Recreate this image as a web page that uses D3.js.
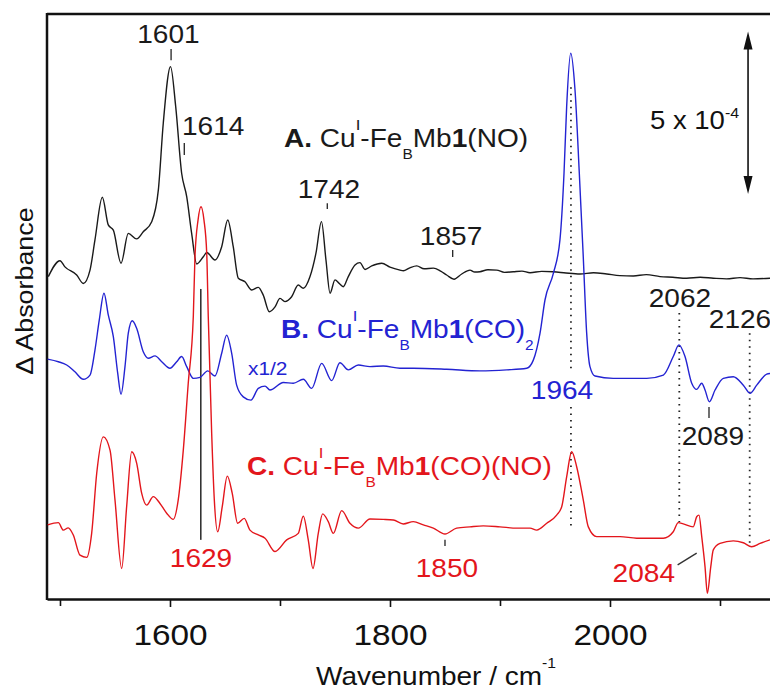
<!DOCTYPE html>
<html>
<head>
<meta charset="utf-8">
<script src="https://cdn.jsdelivr.net/npm/d3@7"></script>
<style>
  html, body { margin: 0; padding: 0; background: #fff; }
  svg { display: block; font-family: 'Liberation Sans', Arial, Helvetica, sans-serif; }
</style>
</head>
<body>
<svg id="chart" width="770" height="691"></svg>
<script>
//

// spectra: [wavenumber (cm-1), dA in units of 1e-5 (stack offset included)]
const traceA = [
  [1489.4, 99.2], [1500, 104.1], [1504.5, 102.2], [1515.2, 99.7], [1521.2, 97.1], [1527.3, 101.2],
  [1531.8, 110.5], [1538.5, 123.6], [1543.9, 115.1], [1548.5, 113.5], [1555.5, 103.3], [1562.1, 112.5],
  [1569.7, 110.8], [1575.7, 113.0], [1583.4, 116.1], [1589.4, 125.8], [1593.9, 146.4], [1600.5, 163.8],
  [1605.2, 151.5], [1610.6, 131.0], [1615.2, 123.8], [1619.7, 112.5], [1624.3, 103.1], [1630.3, 105.3],
  [1633.4, 106.6], [1640.9, 104.3], [1647.0, 108.4], [1652.5, 116.6], [1657.5, 108.4], [1662.1, 98.7],
  [1668.2, 97.6], [1674.3, 95.1], [1680.3, 95.9], [1684.8, 93.5], [1690.3, 88.4], [1695.5, 89.9],
  [1700, 92.5], [1704.5, 91.5], [1710.6, 93.0], [1716.6, 96.6], [1721.2, 95.6], [1727.3, 99.2],
  [1732.7, 106.4], [1737.7, 116.1], [1741.8, 104.3], [1745.5, 94.1], [1750, 98.2], [1753.9, 97.1],
  [1757.5, 96.1], [1762.1, 99.2], [1768.2, 102.8], [1772.7, 103.5], [1777.3, 101.4], [1783.4, 102.5],
  [1792.5, 103.3], [1800, 102.1], [1809.1, 101.2], [1812.1, 101.0], [1818, 101.9], [1824.3, 102.5],
  [1831, 101.6], [1839.4, 101.8], [1846, 100.9], [1851.5, 99.7], [1858.2, 98.4], [1865.2, 100.0],
  [1872.7, 101.2], [1877, 100.6], [1881.8, 100.7], [1889, 101.3], [1897.0, 101.2], [1904, 100.5],
  [1912.1, 100.7], [1920, 100.9], [1927.3, 100.4], [1938, 100.8], [1948.5, 100.7], [1960, 100.3],
  [1972.7, 100.0], [1985, 100.4], [1997.0, 100.0], [2009, 99.5], [2021.2, 99.4], [2033, 99.8],
  [2045.5, 99.2], [2057, 99.0], [2069.7, 98.7], [2082, 99.0], [2093.9, 98.7], [2106, 98.5],
  [2118.2, 98.9], [2130, 98.5], [2145.5, 98.7]
]

// B is shown at x1/2
const traceB = [
  [1488.8, 73.8], [1498.5, 73.0], [1506.1, 72.0], [1513.6, 69.9], [1521.2, 67.6], [1527.3, 68.9],
  [1531.8, 76.6], [1535.7, 85.8], [1540.0, 94.1], [1543.9, 87.4], [1548.5, 80.7], [1552.5, 69.4],
  [1555.5, 63.0], [1559.1, 71.5], [1562.1, 81.8], [1565.7, 85.6], [1569.7, 83.3], [1575.7, 76.1],
  [1580.3, 74.1], [1586.4, 74.8], [1592.5, 73.0], [1600, 71.0], [1606.1, 73.0], [1610.6, 74.6],
  [1615.2, 71.5], [1621.2, 67.9], [1627.3, 68.2], [1634.3, 70.2], [1640.9, 68.6], [1647.0, 75.6],
  [1651.5, 81.2], [1656.1, 75.6], [1660.6, 65.8], [1666.6, 62.2], [1673.6, 61.2], [1680.3, 64.8],
  [1686.4, 65.5], [1690.9, 64.3], [1703.0, 66.6], [1712.1, 66.4], [1721.2, 67.6], [1728.8, 64.8],
  [1737.9, 72.5], [1747.0, 67.2], [1754.5, 72.7], [1762.1, 70.5], [1771.2, 72.0], [1781.8, 71.5],
  [1793.9, 71.7], [1809.1, 71.0], [1821.2, 71.0], [1851.5, 70.7], [1881.8, 70.2], [1906.1, 70.5],
  [1924.3, 71.0], [1930.3, 73.5], [1936.4, 81.8], [1940.9, 92.0], [1948.5, 100.2], [1954.5, 110.5],
  [1958.2, 131.0], [1960.6, 151.5], [1964.3, 167.9], [1968.2, 156.6], [1972.1, 131.0], [1975.7, 105.3],
  [1978.8, 81.8], [1981.8, 71.5], [1986.4, 68.6], [2003.0, 67.9], [2033.4, 67.9], [2048.5, 68.9],
  [2057.5, 74.6], [2062.7, 78.2], [2068.2, 74.6], [2074.3, 66.4], [2078.8, 64.5], [2083.4, 66.4],
  [2086.4, 64.3], [2090.3, 60.7], [2095.5, 64.3], [2103.0, 67.9], [2112.1, 68.4], [2121.2, 65.8],
  [2127.3, 63.3], [2133.4, 65.8], [2142.5, 69.2], [2145.5, 69.4]
]

const traceC = [
  [1488.8, 22.8], [1498.5, 23.5], [1503.0, 21.2], [1507.5, 21.9], [1512.1, 19.7], [1518.2, 13.5],
  [1524.3, 12.8], [1528.8, 20.2], [1533.4, 38.7], [1539.4, 49.9], [1545.5, 45.8], [1550, 30.5],
  [1556.1, 9.4], [1560.6, 28.4], [1565.2, 45.3], [1569.7, 41.8], [1574.3, 32.5], [1578.8, 28.9],
  [1584.8, 31.5], [1590.9, 29.4], [1597.0, 26.4], [1603.0, 24.5], [1607.5, 30.5], [1612.1, 45.8],
  [1616.6, 66.4], [1621.2, 86.9], [1622.7, 105.3], [1625.5, 116.6], [1628.2, 120.7], [1630.9, 116.6],
  [1633.4, 106.4], [1634.8, 86.9], [1637.9, 51.0], [1640.3, 30.5], [1643.4, 20.7], [1647.5, 28.4],
  [1652.1, 37.8], [1656.6, 32.5], [1661.5, 23.3], [1667.5, 24.8], [1672.7, 21.2], [1680.3, 19.7],
  [1686.4, 18.7], [1695.5, 14.6], [1706.1, 18.2], [1716.6, 20.2], [1721.2, 25.5], [1725.7, 18.2],
  [1730.0, 9.4], [1734.8, 20.2], [1738.8, 26.2], [1743.9, 23.8], [1748.5, 20.2], [1756.1, 27.2],
  [1763.6, 23.3], [1771.2, 21.8], [1781.8, 24.6], [1793.9, 24.5], [1803.0, 24.3], [1812.1, 23.1],
  [1821.2, 23.8], [1830.3, 22.8], [1839.4, 21.8], [1850, 20.0], [1860.6, 21.8], [1872.7, 22.2],
  [1884.8, 22.5], [1900, 22.2], [1915.2, 21.8], [1927.3, 21.8], [1933.4, 21.2], [1942.5, 23.3],
  [1951.5, 25.8], [1956.1, 28.4], [1960.6, 37.6], [1965.2, 45.3], [1969.7, 40.7], [1975.7, 30.5],
  [1980.3, 22.2], [1987.9, 19.2], [2009.1, 19.2], [2024.3, 18.7], [2048.5, 18.7], [2057.5, 20.7],
  [2062.1, 23.5], [2066.6, 23.1], [2075.7, 22.2], [2078.8, 25.3], [2080.9, 25.8], [2083.4, 19.2],
  [2086.4, 9.9], [2088.5, 1.8], [2091.6, 9.9], [2093.9, 15.1], [2100, 17.1], [2112.1, 17.9],
  [2121.2, 17.3], [2128.8, 16.1], [2136.4, 17.1], [2145.5, 18.2]
]

const traceNames = ['A', 'B', 'C']
const traceColors = ['#1a1a1a', '#2323d2', '#e3161c']

// peak labels, anchored in data coordinates
const labelText = ['1601', '1614', '1742', '1857', '1964', '2062', '2126', '2089', '1629', '1850', '2084']
const labelWn = [1598.6, 1610.9, 1744.5, 1855.5, 1956.4, 2063.6, 2118.2, 2093.6, 1628.2, 1851.8, 2059.1]
const labelAbs = [171.1, 142.8, 123.4, 108.9, 61.5, 89.8, 83.4, 47.4, 9.8, 6.8, 5.2]
const labelColor = [0, 0, 0, 0, 1, 0, 0, 0, 2, 2, 2]
const labelAnchor = ['middle', 'start', 'middle', 'middle', 'middle', 'middle', 'middle', 'middle', 'middle', 'middle', 'end']

// short marker ticks over the peaks
const markWn = [1601, 1613, 1743, 1857, 2090, 1850]
const markTop = [169.2, 140.3, 121.8, 107.4, 59.1, 18.2]
const markBot = [165.8, 136.6, 120.0, 105.2, 55.7, 16.3]

// dotted guides (1964 is split round its label)
const guideWn = [1964.5, 1964.5, 2063, 2127]
const guideTop = [157.5, 59.1, 88.0, 81.8]
const guideBot = [69.8, 21.2, 23.7, 16.0]

const xTicks = [1600, 1800, 2000]
const xMinor = [1500, 1700, 1900, 2100]
const scaleBar = [124.6, 174.6] // 5 x 10^-4

//

const svg = d3.select('#chart')
const x = d3.scaleLinear().domain([1488.2, 2150]).range([47, 775])
const y = d3.scaleLinear().domain([0, 180]).range([599, 14])

function addText (parent, px, py, parts, opt) {
  const size = opt.size
  const t = parent.append('text')
    .attr('transform', 'translate(' + px + ',' + py + ')' + (opt.rotate ? ' rotate(' + opt.rotate + ')' : '') +
      ' scale(' + (opt.stretch || 1.1) + ',1)')
    .attr('font-size', size)
    .attr('fill', opt.color || '#111')
    .attr('text-anchor', opt.anchor || 'start')
  let shift = 0
  parts.forEach(function (p) {
    const str = typeof p === 'string' ? p : p[0]
    const kind = typeof p === 'string' ? '' : p[1]
    const ts = t.append('tspan').text(str)
    let target = 0
    if (kind === 'sup') {
      target = -(opt.supRaise || 0.65) * size
      ts.attr('font-size', size * (opt.supSize || 0.6))
    } else if (kind === 'sub') {
      target = 0.46 * size
      ts.attr('font-size', size * 0.55)
    } else if (kind === 'b') {
      ts.attr('font-weight', 'bold')
    }
    if (target !== shift) { ts.attr('dy', target - shift); shift = target }
  })
  return t
}

// frame
svg.append('line').attr('x1', 47).attr('x2', 775).attr('y1', 14).attr('y2', 14)
  .attr('stroke', '#111').attr('stroke-width', 2.5)
svg.append('line').attr('x1', 47).attr('x2', 47).attr('y1', 13).attr('y2', 600)
  .attr('stroke', '#111').attr('stroke-width', 2.5)

const xAxis = svg.append('g').attr('transform', 'translate(0,599)')
  .call(d3.axisBottom(x).tickValues(xTicks).tickSize(8).tickSizeOuter(0).tickFormat(d3.format('d')))
xAxis.select('.domain').attr('stroke', '#111').attr('stroke-width', 2.5)
xAxis.selectAll('.tick line').attr('stroke', '#111').attr('stroke-width', 1.6)
xAxis.selectAll('.tick text')
  .attr('y', 46).attr('dy', null)
  .attr('font-size', 29).attr('fill', '#111')
  .attr('font-family', 'Liberation Sans, Arial, sans-serif')
  .attr('transform', 'scale(1.15,1)')

svg.append('g').attr('transform', 'translate(0,599)')
  .call(d3.axisBottom(x).tickValues(xMinor).tickSize(7).tickFormat(''))
  .call(g => g.select('.domain').remove())
  .selectAll('.tick line').attr('stroke', '#111').attr('stroke-width', 1.6)

addText(svg, 436, 685, ['Wavenumber / cm', ['-1', 'sup']], { size: 25, anchor: 'middle', stretch: 1.12, supRaise: 0.68, supSize: 0.56 })
addText(svg, 33, 291, ['\u0394 Absorbance'], { size: 24, anchor: 'middle', rotate: -90, stretch: 1.12 })

// guides and markers
const dots = svg.append('g')
guideWn.forEach(function (w, i) {
  dots.append('line')
    .attr('x1', x(w)).attr('x2', x(w))
    .attr('y1', y(guideTop[i])).attr('y2', y(guideBot[i]))
    .attr('stroke', '#222').attr('stroke-width', 1.8).attr('stroke-dasharray', '1.6,4.9')
})

svg.append('line')
  .attr('x1', x(1628)).attr('x2', x(1628)).attr('y1', y(95.4)).attr('y2', y(18.2))
  .attr('stroke', '#333').attr('stroke-width', 1.6)
svg.append('line')
  .attr('x1', x(2061.5)).attr('x2', x(2078.8)).attr('y1', y(10.5)).attr('y2', y(14.1))
  .attr('stroke', '#333').attr('stroke-width', 1.4)

markWn.forEach(function (w, i) {
  svg.append('line')
    .attr('x1', x(w)).attr('x2', x(w)).attr('y1', y(markTop[i])).attr('y2', y(markBot[i]))
    .attr('stroke', '#222').attr('stroke-width', 1.3)
})

// spectra
const line = d3.line()
  .x(d => x(d[0]))
  .y(d => y(d[1]))
  .curve(d3.curveMonotoneX)

const traces = [traceA, traceB, traceC]
svg.append('g').selectAll('path')
  .data(traces)
  .join('path')
  .attr('class', (d, i) => 'trace trace-' + traceNames[i])
  .attr('fill', 'none')
  .attr('stroke', (d, i) => traceColors[i])
  .attr('stroke-width', 1.4)
  .attr('stroke-linejoin', 'round')
  .attr('d', line)

// peak labels
labelText.forEach(function (s, i) {
  addText(svg, x(labelWn[i]), y(labelAbs[i]), [s], {
    size: 25.5, anchor: labelAnchor[i], color: traceColors[labelColor[i]]
  })
})

// trace names
addText(svg, 284, 147, [['A.', 'b'], ' Cu', ['I', 'sup'], '-Fe', ['B', 'sub'], 'Mb', ['1', 'b'], '(NO)'],
  { size: 25.5, color: traceColors[0] })
addText(svg, 281, 338, [['B.', 'b'], ' Cu', ['I', 'sup'], '-Fe', ['B', 'sub'], 'Mb', ['1', 'b'], '(CO)', ['2', 'sub']],
  { size: 25.5, color: traceColors[1] })
addText(svg, 247, 475, [['C.', 'b'], ' Cu', ['I', 'sup'], '-Fe', ['B', 'sub'], 'Mb', ['1', 'b'], '(CO)(NO)'],
  { size: 25.5, color: traceColors[2] })
addText(svg, x(1670.9), y(68.9), ['x1/2'], { size: 19, color: traceColors[1] })

// scale bar
const sbx = x(2125.5)
const sbTop = y(scaleBar[1])
const sbBot = y(scaleBar[0])
svg.append('line').attr('x1', sbx).attr('x2', sbx).attr('y1', sbTop + 10).attr('y2', sbBot - 10)
  .attr('stroke', '#111').attr('stroke-width', 1.6)
svg.append('path')
  .attr('d', 'M' + sbx + ',' + sbTop + 'l-4.5,18h9z' + 'M' + sbx + ',' + sbBot + 'l-4.5,-18h9z')
  .attr('fill', '#111')
addText(svg, x(2036.4), y(144.6), ['5 x 10', ['-4', 'sup']], { size: 25, supRaise: 0.45, supSize: 0.58 })
</script>
</body>
</html>
